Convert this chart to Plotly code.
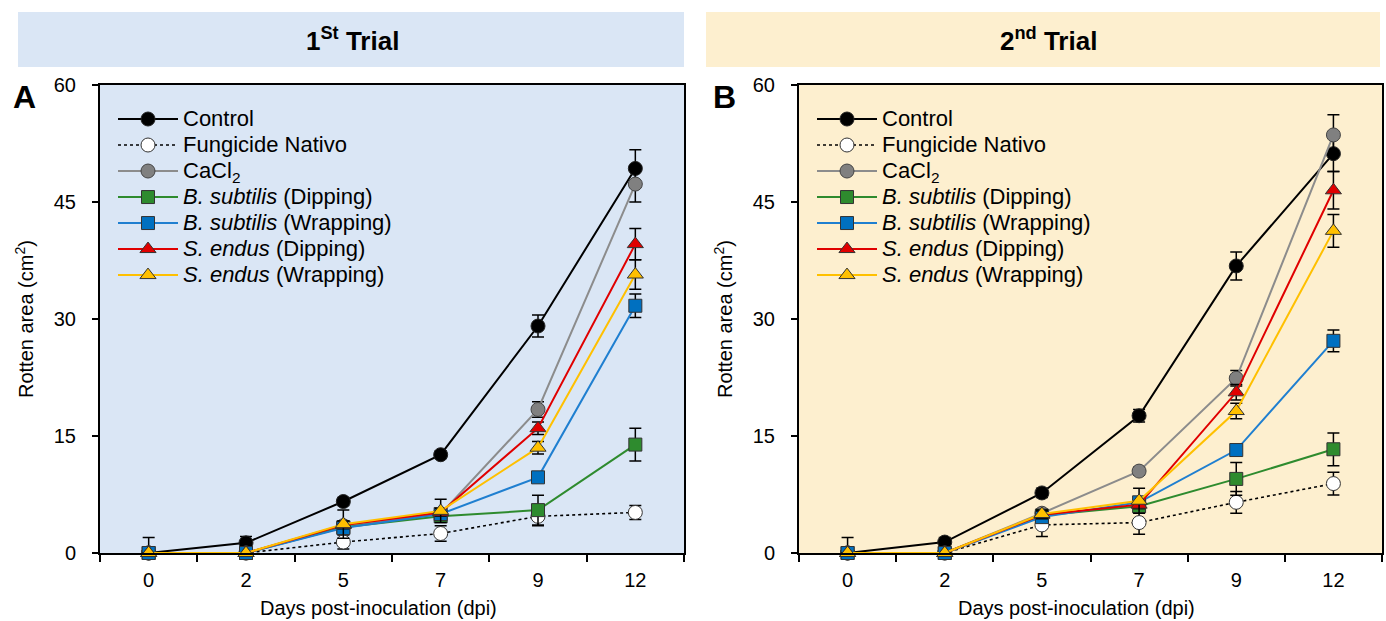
import plotly.graph_objects as go

# ---------------- data ----------------
day_labels = ["0", "2", "5", "7", "9", "12"]
day_pos = [0, 1, 2, 3, 4, 5]

series_names = [
    "Control",
    "Fungicide Nativo",
    "CaCl<sub>2</sub>",
    "<i>B. subtilis</i> (Dipping)",
    "<i>B. subtilis</i> (Wrapping)",
    "<i>S. endus</i> (Dipping)",
    "<i>S. endus</i> (Wrapping)",
]

# Trial 1 (panel A)
t1_control = [0, 1.3, 6.6, 12.6, 29.1, 49.3]
t1_fungicide = [0, 0, 1.4, 2.5, 4.7, 5.2]
t1_cacl2 = [0, 0, 3.5, 5.0, 18.4, 47.3]
t1_bsub_dip = [0, 0, 3.3, 4.7, 5.5, 13.9]
t1_bsub_wrap = [0, 0, 3.2, 5.0, 9.7, 31.7]
t1_send_dip = [0, 0, 3.6, 5.2, 16.0, 39.6]
t1_send_wrap = [0, 0, 3.7, 5.4, 13.5, 35.7]

t1_control_err = [2.0, 0.8, 0.5, 0.5, 1.4, 2.4]
t1_fungicide_err = [0, 0, 0.9, 1.0, 1.2, 0.9]
t1_cacl2_err = [0, 0, 0.5, 0.5, 1.0, 2.3]
t1_bsub_dip_err = [0, 0, 0.5, 0.6, 1.9, 2.1]
t1_bsub_wrap_err = [0, 0, 0.5, 0.5, 0.5, 1.5]
t1_send_dip_err = [0, 0, 0.5, 0.5, 0.8, 2.0]
t1_send_wrap_err = [0, 0, 1.8, 1.5, 0.8, 1.9]

# Trial 2 (panel B)
t2_control = [0, 1.4, 7.7, 17.6, 36.8, 51.2]
t2_fungicide = [0, 0, 3.6, 3.9, 6.5, 8.9]
t2_cacl2 = [0, 0, 5.1, 10.5, 22.4, 53.6]
t2_bsub_dip = [0, 0, 4.8, 6.0, 9.5, 13.3]
t2_bsub_wrap = [0, 0, 4.6, 6.5, 13.2, 27.2]
t2_send_dip = [0, 0, 4.9, 6.2, 20.6, 46.5]
t2_send_wrap = [0, 0, 5.0, 6.7, 18.2, 41.3]

t2_control_err = [2.0, 0.6, 0.6, 0.8, 1.8, 2.3]
t2_fungicide_err = [0, 0, 1.5, 1.5, 1.4, 1.45]
t2_cacl2_err = [0, 0, 0.5, 0.5, 1.0, 2.6]
t2_bsub_dip_err = [0, 0, 0.5, 0.6, 2.1, 2.1]
t2_bsub_wrap_err = [0, 0, 0.5, 0.5, 0.5, 1.4]
t2_send_dip_err = [0, 0, 0.5, 0.5, 1.0, 2.4]
t2_send_wrap_err = [0, 0, 0.5, 1.6, 1.0, 2.1]

y_ticks = [0, 15, 30, 45, 60]

# ---------------- styles ----------------
styles = [
    dict(line=dict(color="black", width=2), marker=dict(symbol="circle", color="black", size=14, line=dict(color="#222", width=1))),
    dict(line=dict(color="black", width=1.6, dash="dot"), marker=dict(symbol="circle", color="white", size=14, line=dict(color="#333", width=1))),
    dict(line=dict(color="#8C8C8C", width=2), marker=dict(symbol="circle", color="#808080", size=14, line=dict(color="#444", width=1))),
    dict(line=dict(color="#2E8B2E", width=2), marker=dict(symbol="square", color="#2E8B2E", size=13, line=dict(color="#333", width=1))),
    dict(line=dict(color="#1F7FD0", width=2), marker=dict(symbol="square", color="#0070C0", size=13, line=dict(color="#333", width=1))),
    dict(line=dict(color="#E00000", width=2), marker=dict(symbol="triangle-up", color="#E00000", size=14, line=dict(color="#333", width=1))),
    dict(line=dict(color="#FFC000", width=2), marker=dict(symbol="triangle-up", color="#FFC000", size=14, line=dict(color="#333", width=1))),
]

trial1 = [t1_control, t1_fungicide, t1_cacl2, t1_bsub_dip, t1_bsub_wrap, t1_send_dip, t1_send_wrap]
trial1_err = [t1_control_err, t1_fungicide_err, t1_cacl2_err, t1_bsub_dip_err, t1_bsub_wrap_err, t1_send_dip_err, t1_send_wrap_err]
trial2 = [t2_control, t2_fungicide, t2_cacl2, t2_bsub_dip, t2_bsub_wrap, t2_send_dip, t2_send_wrap]
trial2_err = [t2_control_err, t2_fungicide_err, t2_cacl2_err, t2_bsub_dip_err, t2_bsub_wrap_err, t2_send_dip_err, t2_send_wrap_err]

FONT = "Liberation Sans, Arial, sans-serif"
NARROW = "Liberation Sans Narrow, Arial Narrow, Liberation Sans, Arial, sans-serif"

fig = go.Figure()

def add_panel(data, errs, xaxis, yaxis, legend):
    for name, vals, err, st in zip(series_names, data, errs, styles):
        e = [v if v > 0 else None for v in err]
        fig.add_trace(go.Scatter(
            x=day_pos, y=vals,
            name='<span style="font-size:22px">' + name + "</span>",
            mode="lines+markers",
            line=st["line"], marker=st["marker"],
            error_y=dict(type="data", array=e, visible=True, color="black", thickness=1.5, width=6),
            xaxis=xaxis, yaxis=yaxis, legend=legend, cliponaxis=False,
        ))

add_panel(trial1, trial1_err, "x", "y", "legend")
add_panel(trial2, trial2_err, "x2", "y2", "legend2")

W, H = 1386, 621
def px(x):
    return x / W
def py(y):
    return (H - y) / H

xA = [px(100), px(684)]
xB = [px(799), px(1382)]
ydom = [py(553), py(85)]

xaxis_common = dict(
    range=[-0.5, 5.5], tickmode="array", tickvals=day_pos, ticktext=day_labels,
    ticks="", showgrid=False, zeroline=False, showline=True, linecolor="black", linewidth=2,
    mirror=True, tickfont=dict(family=FONT, size=20, color="black"), automargin=False,
    ticklabelstandoff=8,
    minor=dict(tickmode="array", tickvals=[-0.5, 0.5, 1.5, 2.5, 3.5, 4.5, 5.5], ticks="outside",
               ticklen=7, tickwidth=1.5, tickcolor="black", showgrid=False),
    fixedrange=True,
)
yaxis_common = dict(
    range=[0, 60], tickmode="array", tickvals=y_ticks, ticks="outside", ticklen=6, tickwidth=1.5,
    tickcolor="black", showgrid=False, zeroline=False, showline=True, linecolor="black",
    linewidth=2, mirror=True, tickfont=dict(family=FONT, size=20, color="black"),
    ticklabelstandoff=12, automargin=False, fixedrange=True,
)

legend_common = dict(
    font=dict(family=FONT, size=17.7, color="black"), bgcolor="rgba(0,0,0,0)",
    xanchor="left", yanchor="top", itemwidth=60, tracegroupgap=0, borderwidth=0,
)

def ann(text, x, y, size, angle=0, family=FONT):
    return dict(text=text, x=px(x), y=py(y), xref="paper", yref="paper", showarrow=False,
                xanchor="center", yanchor="middle", textangle=angle,
                font=dict(family=family, size=size, color="black"))

fig.update_layout(
    width=W, height=H, margin=dict(l=0, r=0, t=0, b=0, pad=0, autoexpand=False),
    paper_bgcolor="white", plot_bgcolor="rgba(0,0,0,0)",
    xaxis=dict(domain=xA, anchor="y", **xaxis_common),
    yaxis=dict(domain=ydom, anchor="x", **yaxis_common),
    xaxis2=dict(domain=xB, anchor="y2", **xaxis_common),
    yaxis2=dict(domain=ydom, anchor="x2", **yaxis_common),
    legend=dict(x=px(113), y=py(101), **legend_common),
    legend2=dict(x=px(812), y=py(101), **legend_common),
    showlegend=True,
    shapes=[
        dict(type="rect", xref="paper", yref="paper", x0=xA[0], x1=xA[1], y0=ydom[0], y1=ydom[1],
             fillcolor="#DAE6F5", line=dict(width=0), layer="below"),
        dict(type="rect", xref="paper", yref="paper", x0=xB[0], x1=xB[1], y0=ydom[0], y1=ydom[1],
             fillcolor="#FDEFCF", line=dict(width=0), layer="below"),
        dict(type="rect", xref="paper", yref="paper", x0=px(18), x1=px(684), y0=py(67), y1=py(12),
             fillcolor="#DAE6F5", line=dict(width=0), layer="below"),
        dict(type="rect", xref="paper", yref="paper", x0=px(706), x1=px(1380), y0=py(67), y1=py(12),
             fillcolor="#FDEFCF", line=dict(width=0), layer="below"),
    ],
    annotations=[
        ann("<b>1<sup>St</sup> Trial</b>", 352, 40, 26, family=NARROW),
        ann("<b>2<sup>nd</sup> Trial</b>", 1048, 40, 26, family=NARROW),
        ann("<b>A</b>", 25, 97, 32),
        ann("<b>B</b>", 724, 97, 32),
        ann("Rotten area (cm<sup>2</sup>)", 24, 319, 20, angle=-90),
        ann("Rotten area (cm<sup>2</sup>)", 723, 319, 20, angle=-90),
        ann("Days post-inoculation (dpi)", 378, 608, 20),
        ann("Days post-inoculation (dpi)", 1076, 608, 20),
    ],
)

fig.write_html("out.html", config={"displayModeBar": False},
               post_script="document.body.style.margin='0px';")
